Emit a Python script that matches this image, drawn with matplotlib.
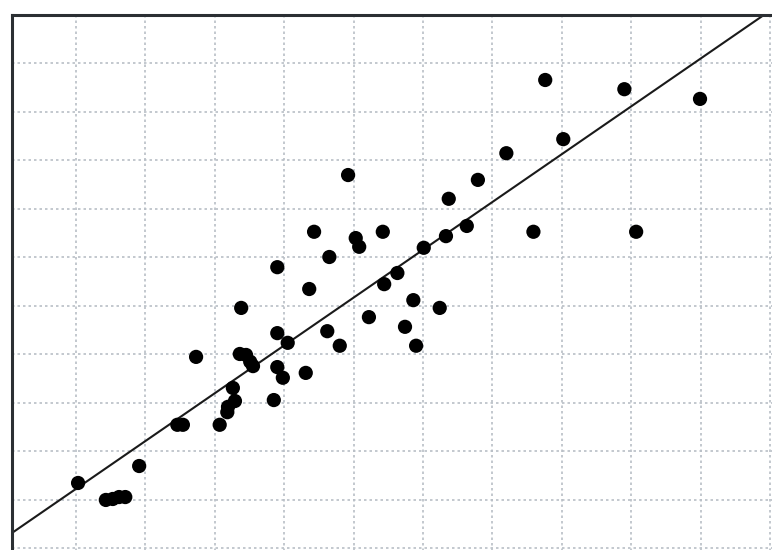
import numpy as np
from matplotlib import pyplot as plt

# scatter values (grid units)
x_vals = [1.03, 1.43, 1.53, 1.62, 1.71, 1.91, 2.46, 2.54, 2.73, 3.07,
          3.18, 3.19, 3.29, 3.26, 3.38, 3.36, 3.45, 3.51, 3.55, 3.85,
          3.90, 3.98, 3.90, 4.05, 3.90, 4.31, 4.36, 4.43, 4.62, 4.65,
          4.80, 4.92, 5.03, 5.08, 5.22, 5.42, 5.44, 5.63, 5.74, 5.86,
          5.90, 6.01, 6.24, 6.33, 6.37, 6.63, 6.79, 7.20, 7.59, 7.76,
          8.02, 8.90, 9.07, 9.99]
y_vals = [1.35, 1.00, 1.02, 1.06, 1.06, 1.70, 2.55, 2.55, 3.95, 2.55,
          2.81, 2.92, 3.04, 3.31, 4.96, 4.01, 3.99, 3.85, 3.76, 3.06,
          3.74, 3.52, 4.44, 4.24, 5.80, 3.62, 5.35, 6.53, 4.48, 6.01,
          4.18, 7.70, 6.40, 6.22, 4.77, 6.53, 5.45, 5.68, 4.57, 5.12,
          4.18, 6.20, 4.96, 6.44, 7.21, 6.65, 7.60, 8.15, 6.53, 9.66,
          8.44, 9.47, 6.53, 9.27]

# fitted trend line
slope = 0.986
intercept = 0.243

fig = plt.figure(figsize=(7.72, 5.5), dpi=100)
fig.patch.set_facecolor('white')
# axes run past the right and bottom of the picture, like the cropped original
ax = fig.add_axes([12/772, -13/550, 772/772, 548/550])

ax.set_xlim(0.078, 11.2)
ax.set_ylim(-0.3, 11)

ax.set_xticks(np.arange(1, 12))
ax.set_yticks(np.arange(0, 12))
ax.tick_params(length=0, labelbottom=False, labelleft=False)
ax.grid(True, color='#b9bfc6', linestyle=(0, (1.5, 1.8)), linewidth=1.2)
ax.set_axisbelow(True)

for side in ['left', 'top']:
    ax.spines[side].set_linewidth(2.2)
    ax.spines[side].set_color('#2b2f33')

xs = np.array([0.0, 11.2])
ax.plot(xs, intercept + slope * xs, color='#1a1a1a', linewidth=1.5, zorder=2)

ax.scatter(x_vals, y_vals, s=105, color='black', edgecolors='none', zorder=3)

fig.savefig('out.png', dpi=100)
